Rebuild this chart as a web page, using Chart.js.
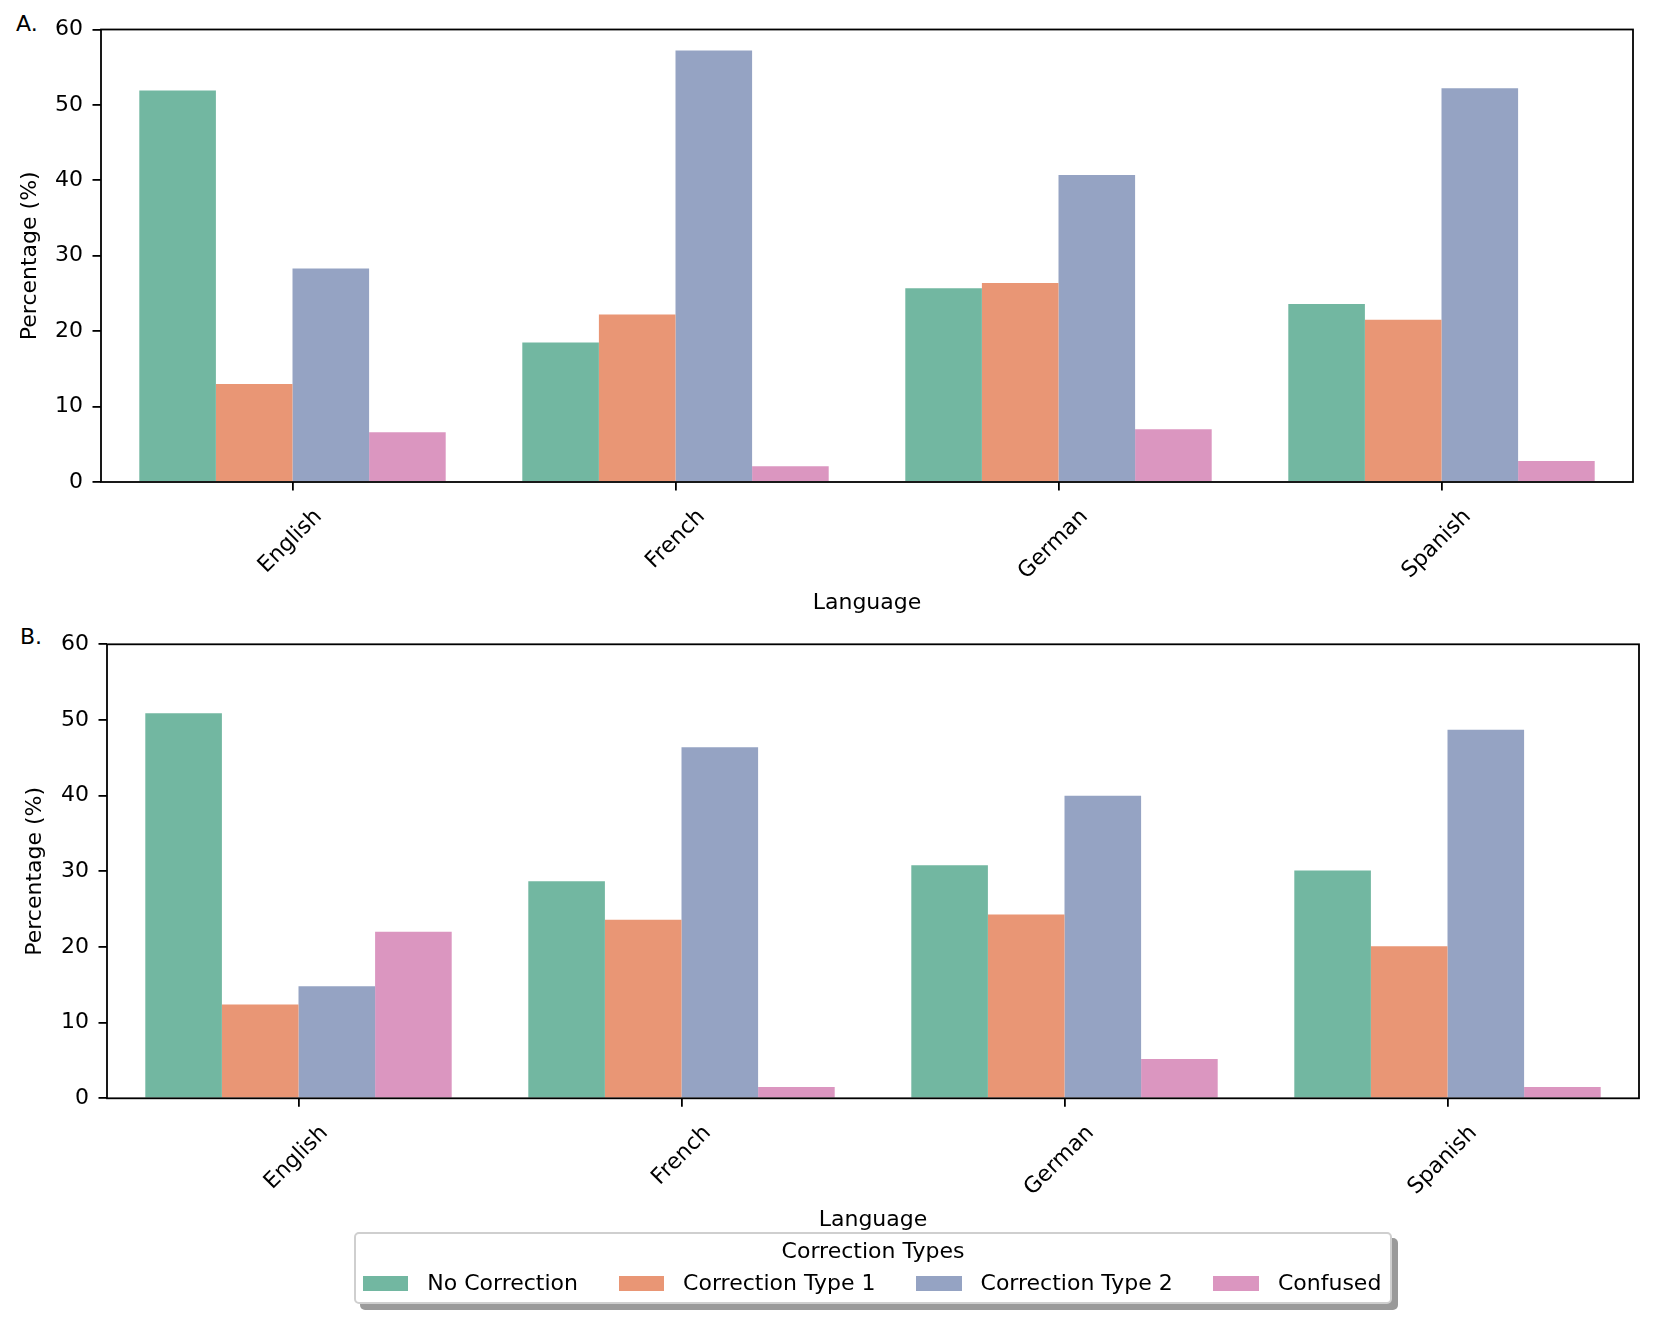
<!DOCTYPE html>
<html>
<head>
<meta charset="utf-8">
<script src="https://cdn.jsdelivr.net/npm/chart.js@4.4.1/dist/chart.umd.min.js"></script>
<style>
  body { margin: 0; background: #fff; font-family: "DejaVu Sans", sans-serif; }
  .panel { position: absolute; left: 0; width: 1661px; }
  .tag { position: absolute; font-size: 22px; color: #000; }
  #legend {
    position: absolute; left: 354px; top: 1232px; width: 1038px; height: 72px;
    box-sizing: border-box; background: #fff; border: 2px solid #cfcfcf; border-radius: 5px;
    box-shadow: 6px 6px 0 #9a9a9a; font-size: 22px; color: #000; z-index: 5;
  }
  #legend .title { position: absolute; top: 4px; left: 0; right: 0; text-align: center; line-height: 26px; }
  #legend .items { position: absolute; top: 36px; left: 6.7px; display: flex; align-items: center; line-height: 26px; white-space: nowrap; }
  #legend .item { display: flex; align-items: center; margin-right: 40.5px; }
  #legend .item:last-child { margin-right: 0; }
  #legend .box { width: 45.6px; height: 15px; margin-right: 19px; }
</style>
</head>
<body>
<div class="tag" style="left:16px; top:10.5px;">A.</div>
<div class="tag" style="left:20px; top:623.5px;">B.</div>
<div class="panel" style="top:0; height:625px;"><canvas id="chartA"></canvas></div>
<div class="panel" style="top:625px; height:620px;"><canvas id="chartB"></canvas></div>
<div id="legend"></div>
<script>
const languages = ['English', 'French', 'German', 'Spanish'];
const correctionTypes = ['No Correction', 'Correction Type 1', 'Correction Type 2', 'Confused'];
const colors = ['#72b7a1', '#e99675', '#95a3c3', '#db96c0'];

// panel A
const noCorrectionA = [51.9, 18.5, 25.7, 23.6];
const type1A = [13.0, 22.2, 26.4, 21.5];
const type2A = [28.3, 57.2, 40.7, 52.2];
const confusedA = [6.6, 2.1, 7.0, 2.8];

// panel B
const noCorrectionB = [50.9, 28.7, 30.8, 30.1];
const type1B = [12.4, 23.6, 24.3, 20.1];
const type2B = [14.8, 46.4, 40.0, 48.7];
const confusedB = [22.0, 1.5, 5.2, 1.5];

const yTicks = [0, 10, 20, 30, 40, 50, 60];

const FONT = { family: 'DejaVu Sans', size: 22 };

const frame = {
  id: 'frame',
  afterDatasetsDraw(chart) {
    const { ctx, chartArea: a } = chart;
    ctx.save();
    ctx.strokeStyle = '#000';
    ctx.lineWidth = 1.8;
    ctx.strokeRect(a.left, a.top, a.right - a.left, a.bottom - a.top);
    ctx.restore();
  }
};

function makeChart(id, series, lay) {
  const datasets = series.map((vals, i) => ({
    label: correctionTypes[i],
    data: vals,
    backgroundColor: colors[i],
    borderWidth: 0,
    categoryPercentage: 0.8,
    barPercentage: 1.0
  }));
  return new Chart(document.getElementById(id), {
    type: 'bar',
    data: { labels: languages, datasets: datasets },
    plugins: [frame],
    options: {
      responsive: true,
      maintainAspectRatio: false,
      animation: false,
      layout: { padding: { left: lay.padLeft, right: lay.padRight, top: lay.padTop, bottom: lay.padBottom } },
      plugins: { legend: { display: false }, tooltip: { enabled: false } },
      scales: {
        x: {
          grid: { offset: false, drawOnChartArea: false, tickLength: 8.5, tickColor: '#000', lineWidth: 1.8 },
          border: { display: false },
          ticks: { color: '#000', font: FONT, minRotation: 45, maxRotation: 45, labelOffset: 26, padding: 13.5 },
          title: { display: true, text: 'Language', color: '#000', font: FONT },
          afterFit(scale) { scale.height = lay.xHeight; }
        },
        y: {
          min: yTicks[0],
          max: yTicks[yTicks.length - 1],
          grid: { drawOnChartArea: false, tickLength: 8.5, tickColor: '#000', lineWidth: 1.8 },
          border: { display: false },
          ticks: { color: '#000', font: FONT, stepSize: yTicks[1] - yTicks[0], padding: 9.5 },
          title: { display: true, text: 'Percentage (%)', color: '#000', font: FONT },
          afterFit(scale) {
            scale.width = lay.yWidth;
            scale.paddingTop = 0;
            scale.paddingBottom = 0;
          }
        }
      }
    }
  });
}

makeChart('chartA', [noCorrectionA, type1A, type2A, confusedA],
  { padLeft: 12.8, padRight: 28, padTop: 29.5, padBottom: 4.4, xHeight: 138.6, yWidth: 88.2 });
makeChart('chartB', [noCorrectionB, type1B, type2B, confusedB],
  { padLeft: 17.8, padRight: 22, padTop: 19.3, padBottom: 7.1, xHeight: 139.6, yWidth: 89.2 });

// shared legend
const legend = document.getElementById('legend');
let html = '<div class="title">Correction Types</div><div class="items">';
correctionTypes.forEach((name, i) => {
  html += '<div class="item"><span class="box" style="background:' + colors[i] + '"></span><span>' + name + '</span></div>';
});
html += '</div>';
legend.innerHTML = html;
</script>
</body>
</html>
